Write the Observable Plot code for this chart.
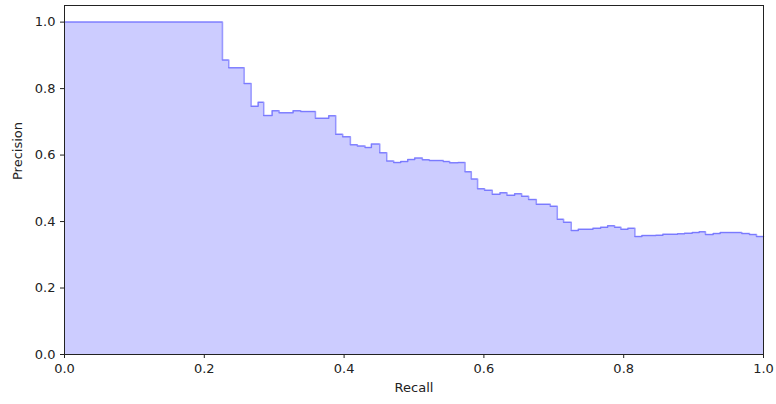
<!DOCTYPE html>
<html>
<head>
<meta charset="utf-8">
<script src="https://cdn.jsdelivr.net/npm/d3@7"></script>
<script src="https://cdn.jsdelivr.net/npm/@observablehq/plot@0.6"></script>
<style>
  html, body { margin: 0; padding: 0; background: #fff; }
</style>
</head>
<body>
<div id="chart"></div>
<script>
// Step breakpoints: precision holds from each recall value to the next
const recall = [0, 0.226, 0.235, 0.257, 0.267, 0.277, 0.285, 0.297, 0.307, 0.327, 0.338, 0.359, 0.378,
  0.388, 0.398, 0.409, 0.419, 0.430, 0.439, 0.451, 0.461, 0.471, 0.481, 0.491, 0.501, 0.512, 0.522,
  0.542, 0.551, 0.563, 0.573, 0.582, 0.591, 0.601, 0.612, 0.623, 0.633, 0.644, 0.654, 0.664, 0.675,
  0.695, 0.705, 0.714, 0.725, 0.735, 0.756, 0.767, 0.777, 0.787, 0.796, 0.806, 0.816, 0.826, 0.846,
  0.856, 0.877, 0.887, 0.898, 0.908, 0.917, 0.928, 0.938, 0.969, 0.980, 0.990, 1.0];
const precision = [1.0, 0.886, 0.863, 0.815, 0.747, 0.759, 0.719, 0.733, 0.727, 0.733, 0.731, 0.711, 0.718,
  0.663, 0.655, 0.631, 0.627, 0.623, 0.633, 0.607, 0.582, 0.578, 0.581, 0.587, 0.591, 0.586, 0.584,
  0.581, 0.577, 0.578, 0.550, 0.528, 0.499, 0.494, 0.482, 0.487, 0.479, 0.484, 0.476, 0.466, 0.452,
  0.446, 0.407, 0.398, 0.373, 0.377, 0.380, 0.383, 0.387, 0.383, 0.377, 0.380, 0.355, 0.358, 0.359,
  0.362, 0.363, 0.365, 0.367, 0.369, 0.361, 0.364, 0.367, 0.364, 0.361, 0.355, 0.355];
const xTicks = [0, 0.2, 0.4, 0.6, 0.8, 1.0];
const yTicks = [0, 0.2, 0.4, 0.6, 0.8, 1.0];

const data = recall.map((r, i) => ({recall: r, precision: precision[i]}));

const chart = Plot.plot({
  width: 776,
  height: 404,
  marginLeft: 64,
  marginRight: 13,
  marginTop: 5,
  marginBottom: 50,
  style: {fontFamily: "DejaVu Sans", fontSize: "13px", color: "#222", background: "#fff"},
  x: {domain: [0, 1]},
  y: {domain: [0, 1.05]},
  marks: [
    Plot.areaY(data, {x: "recall", y: "precision", curve: "step-after", fill: "blue", fillOpacity: 0.2}),
    Plot.lineY(data, {x: "recall", y: "precision", curve: "step-after", stroke: "blue", strokeOpacity: 0.4, strokeWidth: 1.5}),
    Plot.frame({stroke: "#222", strokeWidth: 1}),
    Plot.axisX(xTicks, {tickSize: 4, tickPadding: 5, tickFormat: d3.format(".1f"), label: null, stroke: "#222"}),
    Plot.axisY(yTicks, {tickSize: 4, tickPadding: 5, tickFormat: d3.format(".1f"), label: null, stroke: "#222"}),
    Plot.text(["Recall"], {frameAnchor: "bottom", dy: 37, text: d => d, fill: "#222"}),
    Plot.text(["Precision"], {frameAnchor: "left", dx: -47, rotate: -90, text: d => d, fill: "#222"})
  ]
});
document.getElementById("chart").appendChild(chart);
</script>
</body>
</html>
